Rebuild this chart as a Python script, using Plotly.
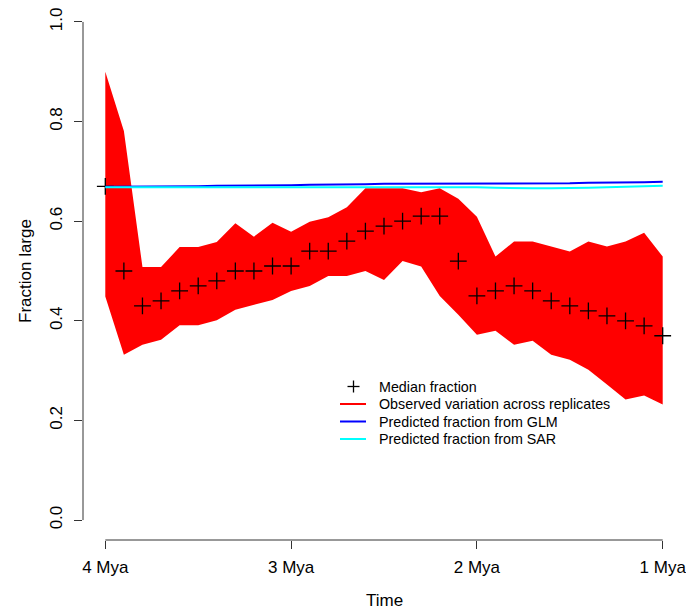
import plotly.graph_objects as go

# ---- data ----
time_mya = [4.0, 3.9, 3.8, 3.7, 3.6, 3.5, 3.4, 3.3, 3.2, 3.1, 3.0,
            2.9, 2.8, 2.7, 2.6, 2.5, 2.4, 2.3, 2.2, 2.1, 2.0,
            1.9, 1.8, 1.7, 1.6, 1.5, 1.4, 1.3, 1.2, 1.1, 1.0]

median_fraction = [0.67, 0.50, 0.43, 0.44, 0.46, 0.47, 0.48, 0.50, 0.50, 0.51, 0.51,
                   0.54, 0.54, 0.56, 0.58, 0.59, 0.60, 0.61, 0.61, 0.52, 0.45,
                   0.46, 0.47, 0.46, 0.44, 0.43, 0.42, 0.41, 0.40, 0.39, 0.37]

upper_bound = [0.900, 0.781, 0.508, 0.508, 0.548, 0.548, 0.558, 0.596, 0.569, 0.597, 0.579,
               0.599, 0.608, 0.628, 0.666, 0.666, 0.666, 0.658, 0.666, 0.645, 0.609,
               0.529, 0.559, 0.559, 0.549, 0.539, 0.559, 0.549, 0.559, 0.577, 0.529]

lower_bound = [0.449, 0.332, 0.352, 0.362, 0.391, 0.391, 0.401, 0.422, 0.432, 0.442, 0.460,
               0.470, 0.490, 0.490, 0.500, 0.482, 0.520, 0.509, 0.450, 0.412, 0.372,
               0.380, 0.352, 0.360, 0.332, 0.322, 0.302, 0.272, 0.242, 0.250, 0.232]

glm_pred = [0.669, 0.669, 0.669, 0.670, 0.670, 0.670, 0.671, 0.671, 0.671, 0.672, 0.672,
            0.673, 0.673, 0.674, 0.674, 0.675, 0.675, 0.676, 0.676, 0.676, 0.676,
            0.675, 0.675, 0.675, 0.675, 0.676, 0.677, 0.677, 0.678, 0.678, 0.679]

sar_pred = [0.668, 0.668, 0.668, 0.668, 0.668, 0.668, 0.668, 0.668, 0.669, 0.669, 0.669,
            0.669, 0.669, 0.669, 0.669, 0.669, 0.669, 0.669, 0.669, 0.668, 0.668,
            0.667, 0.666, 0.666, 0.666, 0.666, 0.667, 0.668, 0.669, 0.670, 0.671]

x_tick_vals = [4, 3, 2, 1]
x_tick_text = ["4 Mya", "3 Mya", "2 Mya", "1 Mya"]
y_tick_vals = [0.0, 0.2, 0.4, 0.6, 0.8, 1.0]
y_tick_text = ["0.0", "0.2", "0.4", "0.6", "0.8", "1.0"]

legend_labels = ["Median fraction", "Observed variation across replicates",
                 "Predicted fraction from GLM", "Predicted fraction from SAR"]
legend_colors = ["black", "#FF0000", "#0000FF", "#00FFFF"]

FONT = "Liberation Sans, Arial, Helvetica, sans-serif"

# plot-area geometry (pixels) used for legend placement
W, H = 686, 610
ML, MR, MT, MB = 83, 1, 2, 70
PW, PH = W - ML - MR, H - MT - MB


def px_x(px):
    return (px - ML) / PW


def px_y(py):
    return (H - MB - py) / PH


fig = go.Figure()

# band polygon
fig.add_trace(go.Scatter(
    x=time_mya + time_mya[::-1],
    y=upper_bound + lower_bound[::-1],
    fill="toself", fillcolor="#FF0000",
    line=dict(width=0, color="#FF0000"),
    mode="lines", name="Observed variation across replicates", hoverinfo="skip"))

# medians
fig.add_trace(go.Scatter(
    x=time_mya, y=median_fraction, mode="markers", name="Median fraction",
    marker=dict(symbol="cross-thin", size=12, color="black",
                line=dict(width=1.3, color="black"))))

fig.add_trace(go.Scatter(
    x=time_mya, y=glm_pred, mode="lines", name="Predicted fraction from GLM",
    line=dict(color="#0000FF", width=2)))

fig.add_trace(go.Scatter(
    x=time_mya, y=sar_pred, mode="lines", name="Predicted fraction from SAR",
    line=dict(color="#00FFFF", width=2)))

# R-style detached axis lines
shapes = [
    dict(type="line", xref="x", yref="paper", x0=4, x1=1, y0=0, y1=0,
         line=dict(color="#333333", width=1)),
    dict(type="line", xref="paper", yref="y", x0=0, x1=0, y0=0, y1=1,
         line=dict(color="#333333", width=1)),
]

# manual legend (R style, no box)
row_y = [386.5, 404, 421.5, 439]
annotations = []
for i, (lab, col) in enumerate(zip(legend_labels, legend_colors)):
    yy = px_y(row_y[i])
    if i == 0:
        shapes.append(dict(type="line", xref="paper", yref="paper",
                           x0=px_x(347.5), x1=px_x(359.5), y0=yy, y1=yy,
                           line=dict(color=col, width=1.3)))
        shapes.append(dict(type="line", xref="paper", yref="paper",
                           x0=px_x(353.5), x1=px_x(353.5),
                           y0=px_y(row_y[i] - 6), y1=px_y(row_y[i] + 6),
                           line=dict(color=col, width=1.3)))
    else:
        shapes.append(dict(type="line", xref="paper", yref="paper",
                           x0=px_x(340), x1=px_x(366), y0=yy, y1=yy,
                           line=dict(color=col, width=2)))
    annotations.append(dict(text=lab, xref="paper", yref="paper",
                            x=px_x(377), y=yy, xanchor="left", yanchor="middle",
                            showarrow=False, font=dict(size=14.3, family=FONT)))

annotations += [
    dict(text="Time", xref="paper", yref="paper", x=0.5, y=0,
         xanchor="center", yanchor="middle", yshift=-60, showarrow=False,
         font=dict(size=17, family=FONT)),
    dict(text="Fraction large", xref="paper", yref="paper", x=0, y=0.5,
         xanchor="center", yanchor="middle", xshift=-58, textangle=-90,
         showarrow=False, font=dict(size=17, family=FONT)),
]

fig.update_layout(
    width=W, height=H,
    margin=dict(l=ML, r=MR, t=MT, b=MB),
    paper_bgcolor="white", plot_bgcolor="white",
    font=dict(family=FONT, size=17, color="black"),
    xaxis=dict(range=[4.12, 0.88], tickvals=x_tick_vals, ticktext=x_tick_text,
               ticks="outside", ticklen=8, tickcolor="#333333", tickwidth=1,
               showgrid=False, zeroline=False, showline=False,
               ticklabelstandoff=4, ticklabeloverflow="allow"),
    yaxis=dict(range=[-0.04, 1.04], tickvals=y_tick_vals, ticktext=y_tick_text,
               ticks="outside", ticklen=8, tickcolor="#333333", tickwidth=1,
               tickangle=-90, showgrid=False, zeroline=False, showline=False,
               ticklabelstandoff=5),
    showlegend=False,
    shapes=shapes,
    annotations=annotations,
)

fig.write_html("out.html")
